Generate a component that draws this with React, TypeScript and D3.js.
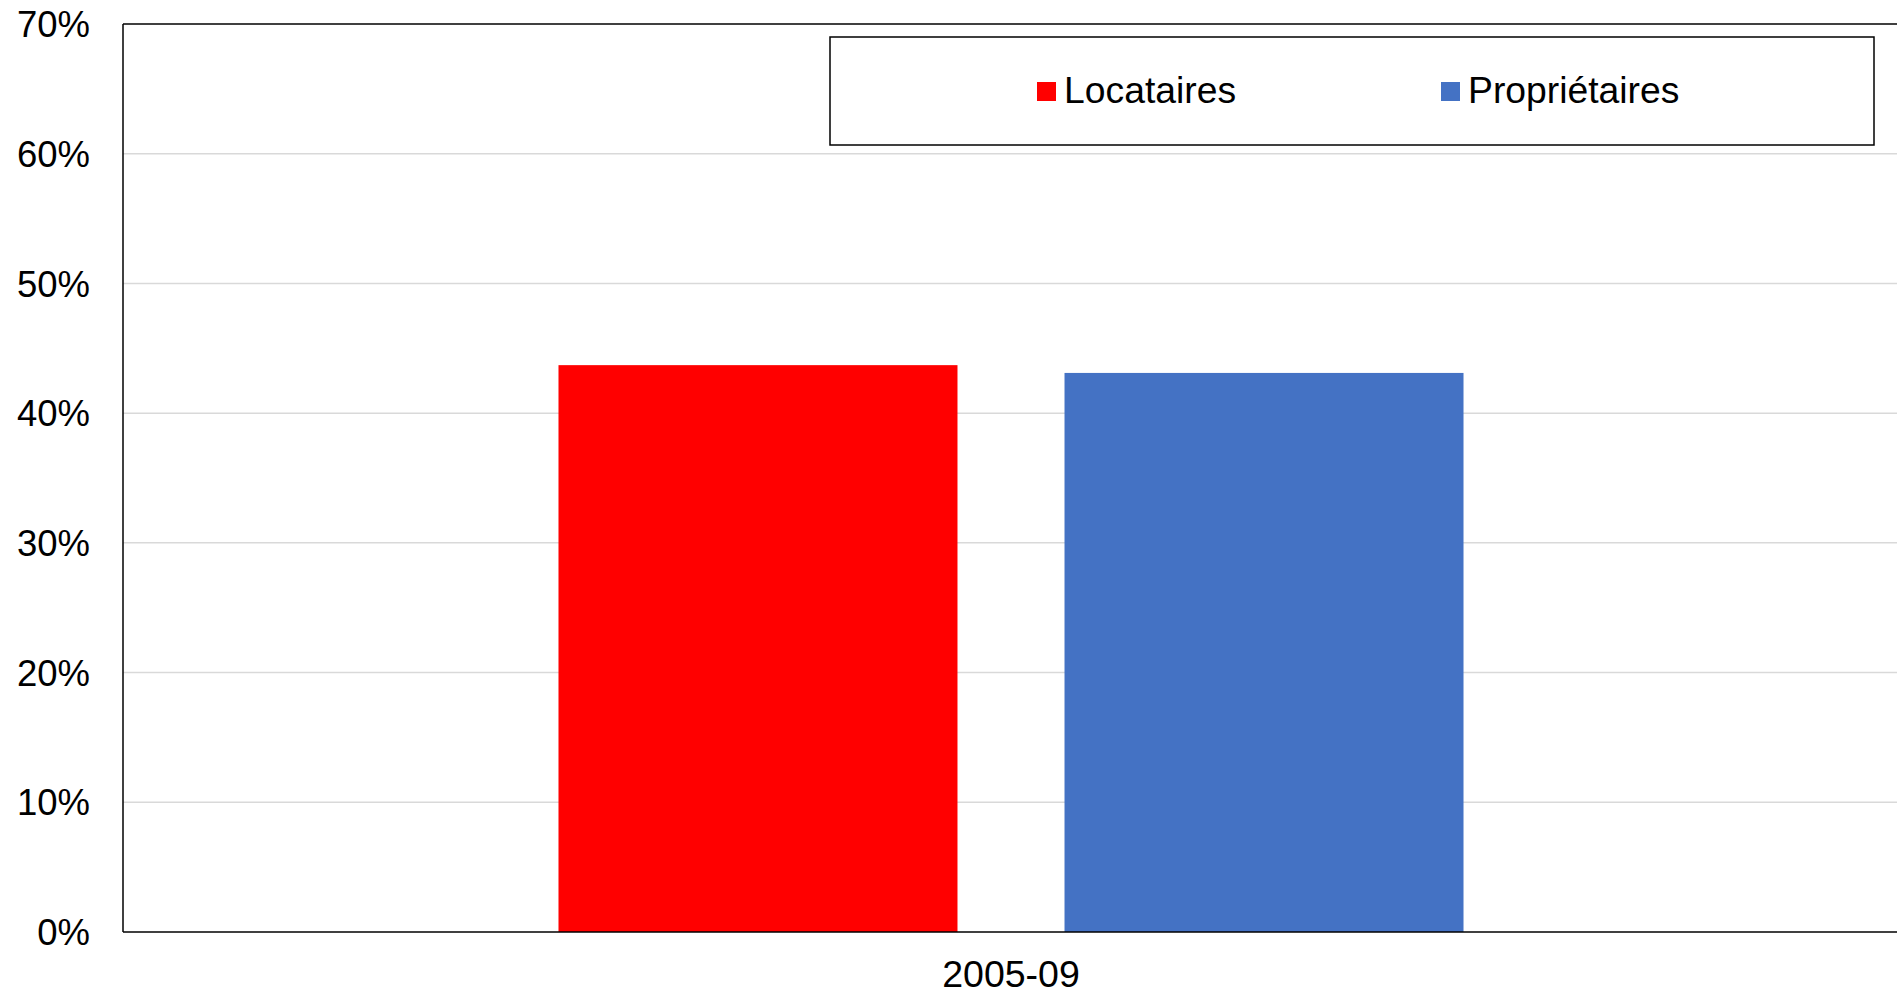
import React from "react";
import * as d3 from "d3";

const categories = ["2005-09"];
const seriesNames = ["Locataires", "Propriétaires"];
const seriesColors = ["#FF0000", "#4472C4"];
const locataires = [0.437];
const proprietaires = [0.431];
const yTicks = [0, 0.1, 0.2, 0.3, 0.4, 0.5, 0.6, 0.7];

const W = 1897;
const H = 993;
const plot = { left: 123, right: 1899, top: 24, bottom: 932 };
const FONT = "'Liberation Sans', Arial, sans-serif";

export default function App() {
  const x0 = d3
    .scaleBand<string>()
    .domain(categories)
    .range([plot.left, plot.right])
    .paddingInner(0)
    .paddingOuter(0.4812);
  const x1 = d3
    .scaleBand<string>()
    .domain(seriesNames)
    .range([0, x0.bandwidth()])
    .paddingInner(0.2115)
    .paddingOuter(0);
  const y = d3.scaleLinear().domain([0, 0.7]).range([plot.bottom, plot.top]);
  const fmt = d3.format(".0%");
  const values = [locataires, proprietaires];

  const legendItems = [
    { name: seriesNames[0], color: seriesColors[0], sq: 1037, tx: 1064 },
    { name: seriesNames[1], color: seriesColors[1], sq: 1441, tx: 1468 },
  ];

  return (
    <svg
      width={W}
      height={H}
      style={{ position: "fixed", left: 0, top: 0, display: "block", background: "#fff" }}
      fontFamily={FONT}
    >
      <rect x={0} y={0} width={W} height={H} fill="#fff" />
      {yTicks.slice(1, -1).map((t) => (
        <line
          key={"g" + t}
          x1={plot.left}
          x2={plot.right}
          y1={y(t)}
          y2={y(t)}
          stroke="#D9D9D9"
          strokeWidth={1.5}
        />
      ))}
      {categories.map((c, ci) =>
        seriesNames.map((s, si) => {
          const v = values[si][ci];
          return (
            <rect
              key={c + s}
              x={(x0(c) as number) + (x1(s) as number)}
              y={y(v)}
              width={x1.bandwidth()}
              height={y(0) - y(v)}
              fill={seriesColors[si]}
            />
          );
        })
      )}
      {/* plot border */}
      <line x1={plot.left} x2={plot.right} y1={plot.top} y2={plot.top} stroke="#000" strokeWidth={1.5} />
      <line x1={plot.left} x2={plot.left} y1={plot.top} y2={plot.bottom} stroke="#000" strokeWidth={1.5} />
      <line x1={plot.left} x2={plot.right} y1={plot.bottom} y2={plot.bottom} stroke="#000" strokeWidth={1.5} />
      {yTicks.map((t) => (
        <text
          key={"t" + t}
          x={90}
          y={y(t)}
          dy="0.36em"
          textAnchor="end"
          fontSize={36.5}
          fill="#000"
        >
          {fmt(t)}
        </text>
      ))}
      {categories.map((c) => (
        <text
          key={"c" + c}
          x={(x0(c) as number) + x0.bandwidth() / 2}
          y={987}
          textAnchor="middle"
          fontSize={37.5}
          fill="#000"
        >
          {c}
        </text>
      ))}
      <rect x={830} y={37} width={1044} height={108} fill="#fff" stroke="#000" strokeWidth={1.5} />
      {legendItems.map((it) => (
        <g key={it.name}>
          <rect x={it.sq} y={82} width={19} height={19} fill={it.color} />
          <text x={it.tx} y={103} fontSize={37.3} fill="#000">
            {it.name}
          </text>
        </g>
      ))}
    </svg>
  );
}
